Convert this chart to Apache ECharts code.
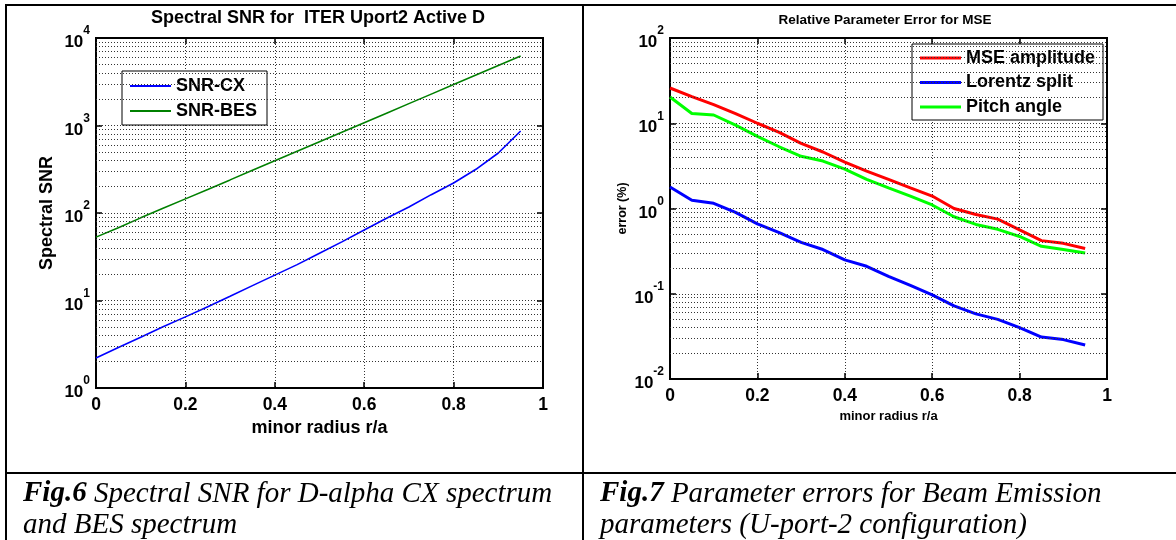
<!DOCTYPE html>
<html>
<head>
<meta charset="utf-8">
<script src="https://cdn.jsdelivr.net/npm/echarts@6/dist/echarts.min.js"></script>
<style>
html,body{margin:0;padding:0;background:#fff}
#chart{width:1176px;height:540px}
</style>
</head>
<body>
<div id="chart"></div>
<script>
// minor radius r/a, shared by both panels
const radius = [0, 0.05, 0.1, 0.15, 0.2, 0.25, 0.3, 0.35, 0.4, 0.45, 0.5, 0.55, 0.6, 0.65, 0.7, 0.75, 0.8, 0.85, 0.9, 0.95]

// Fig.6 spectral SNR
const snrCX  = [2.2, 2.9, 3.8, 5.0, 6.5, 8.5, 11.2, 14.8, 19.5, 25.7, 34.7, 46.8, 64, 87, 117, 162, 220, 316, 485, 865]
const snrBES = [53, 68, 88, 113, 145, 186, 239, 308, 395, 508, 653, 838, 1077, 1384, 1778, 2284, 2936, 3772, 4845, 6225]

// Fig.7 relative parameter error (%)
const errMSE     = [25.9, 20.5, 16.5, 13, 10, 7.8, 5.8, 4.6, 3.5, 2.75, 2.2, 1.75, 1.4, 1.0, 0.85, 0.75, 0.56, 0.42, 0.39, 0.34]
const errLorentz = [1.79, 1.25, 1.15, 0.9, 0.66, 0.52, 0.40, 0.33, 0.25, 0.21, 0.16, 0.125, 0.097, 0.072, 0.058, 0.05, 0.04, 0.031, 0.029, 0.025]
const errPitch   = [20.3, 13, 12.5, 9.5, 7.0, 5.3, 4.1, 3.6, 2.9, 2.2, 1.75, 1.4, 1.1, 0.8, 0.65, 0.57, 0.47, 0.36, 0.33, 0.30]

const xTicks = ['0', '0.2', '0.4', '0.6', '0.8', '1']

const FONT = 'Liberation Sans'
const SERIF = 'Liberation Serif'

const pairs = arr => radius.map((r, i) => [r, arr[i]])

// dotted minor grid at 2..9 x 10^k
function minorLines(lo, hi){
    let out = []
    for(let k = lo; k < hi; k++){
        for(let m = 2; m <= 9; m++){
            out.push({yAxis: m * Math.pow(10, k)})
        }
    }
    return out
}

const gridDots = {color:'#333', type:[1,2], width:1}

function expLabel(v){
    const e = Math.round(Math.log10(v))
    return '{b|10}{s|' + e + '}'
}

function xAxisPair(g, fs){
    return [
        {
            type:'value', gridIndex:g, min:0, max:1, interval:0.2,
            axisLine:{show:true, onZero:false, lineStyle:{color:'#000', width:2}},
            axisTick:{inside:true, length:6, lineStyle:{color:'#000', width:1.5}},
            axisLabel:{
                margin:8, color:'#000', fontFamily:FONT, fontWeight:'bold', fontSize:fs,
                formatter:(v, i) => xTicks[i]
            },
            splitLine:{show:true, lineStyle:gridDots}
        },
        {
            type:'value', gridIndex:g, position:'top', min:0, max:1, interval:0.2,
            axisLine:{show:true, onZero:false, lineStyle:{color:'#000', width:2}},
            axisTick:{inside:true, length:6, lineStyle:{color:'#000', width:1.5}},
            axisLabel:{show:false},
            splitLine:{show:false}
        }
    ]
}

function yAxisPair(g, lo, hi, name, nameSize, nameGap){
    return [
        {
            type:'log', logBase:10, gridIndex:g, min:Math.pow(10, lo), max:Math.pow(10, hi),
            axisLine:{show:true, onZero:false, lineStyle:{color:'#000', width:2}},
            axisTick:{inside:true, length:6, lineStyle:{color:'#000', width:1.5}},
            axisLabel:{
                margin:6, formatter:expLabel,
                rich:{
                    b:{fontFamily:FONT, fontWeight:'bold', fontSize:17, color:'#000', lineHeight:26, verticalAlign:'bottom'},
                    s:{fontFamily:FONT, fontWeight:'bold', fontSize:12, color:'#000', lineHeight:12, verticalAlign:'top'}
                }
            },
            splitLine:{show:true, lineStyle:gridDots},
            name:name, nameLocation:'middle', nameGap:nameGap,
            nameTextStyle:{color:'#000', fontFamily:FONT, fontWeight:'bold', fontSize:nameSize}
        },
        {
            type:'log', logBase:10, gridIndex:g, position:'right', min:Math.pow(10, lo), max:Math.pow(10, hi),
            axisLine:{show:true, onZero:false, lineStyle:{color:'#000', width:2}},
            axisTick:{inside:true, length:6, lineStyle:{color:'#000', width:1.5}},
            axisLabel:{show:false},
            splitLine:{show:false}
        }
    ]
}

function minorSeries(xi, yi, lo, hi){
    return {
        type:'line', xAxisIndex:xi, yAxisIndex:yi, data:[], silent:true, z:1,
        markLine:{
            silent:true, symbol:['none','none'], animation:false,
            label:{show:false},
            lineStyle:gridDots,
            emphasis:{disabled:true},
            data:minorLines(lo, hi)
        }
    }
}

function curve(name, data, color, width, xi, yi){
    return {
        name:name, type:'line', xAxisIndex:xi, yAxisIndex:yi, data:pairs(data),
        showSymbol:false, symbol:'none', z:3,
        lineStyle:{color:color, width:width}, itemStyle:{color:color}
    }
}

const legendText = {color:'#000', fontFamily:FONT, fontWeight:'bold', fontSize:18}

const mychart = echarts.init(document.getElementById('chart'))
mychart.setOption({
    animation:false,
    backgroundColor:'#fff',
    grid:[
        {left:96, top:38, width:447, height:350, show:true, borderColor:'#000', borderWidth:2, backgroundColor:'#fff'},
        {left:670, top:38, width:437, height:341, show:true, borderColor:'#000', borderWidth:2, backgroundColor:'#fff'}
    ],
    xAxis:[
        ...xAxisPair(0, 17.5).map((a, i) => i === 0 ? Object.assign(a, {
            name:'minor radius r/a', nameLocation:'middle', nameGap:23,
            nameTextStyle:{color:'#000', fontFamily:FONT, fontWeight:'bold', fontSize:18}
        }) : a),
        ...xAxisPair(1, 17.5).map((a, i) => i === 0 ? Object.assign(a, {
            name:'minor radius r/a', nameLocation:'middle', nameGap:26,
            nameTextStyle:{color:'#000', fontFamily:FONT, fontWeight:'bold', fontSize:13}
        }) : a)
    ],
    yAxis:[
        ...yAxisPair(0, 0, 4, 'Spectral SNR', 18, 40),
        ...yAxisPair(1, -2, 2, 'error (%)', 12.5, 41)
    ],
    legend:[
        {
            data:['SNR-CX','SNR-BES'], orient:'vertical', left:122, top:71,
            padding:[6, 10, 5, 8], itemGap:7, itemWidth:41, itemHeight:2, icon:'rect',
            borderColor:'#000', borderWidth:1, backgroundColor:'#fff',
            textStyle:legendText, selectedMode:false
        },
        {
            data:['MSE amplitude','Lorentz split','Pitch angle'], orient:'vertical', left:912, top:44,
            padding:[5, 8, 4, 8], itemGap:6.5, itemWidth:41, itemHeight:3, icon:'rect',
            borderColor:'#000', borderWidth:1, backgroundColor:'#fff',
            textStyle:legendText, selectedMode:false
        }
    ],
    series:[
        minorSeries(0, 0, 0, 4),
        curve('SNR-CX', snrCX, '#0000ff', 1.6, 0, 0),
        curve('SNR-BES', snrBES, '#008000', 1.6, 0, 0),
        minorSeries(2, 2, -2, 2),
        curve('MSE amplitude', errMSE, '#ff0000', 3, 2, 2),
        curve('Lorentz split', errLorentz, '#0000ff', 3, 2, 2),
        curve('Pitch angle', errPitch, '#00ff00', 3, 2, 2)
    ],
    graphic:[
        // table rules
        {type:'line', shape:{x1:5, y1:5, x2:1176, y2:5}, style:{stroke:'#000', lineWidth:2}},
        {type:'line', shape:{x1:6, y1:5, x2:6, y2:540}, style:{stroke:'#000', lineWidth:2}},
        {type:'line', shape:{x1:583, y1:5, x2:583, y2:540}, style:{stroke:'#000', lineWidth:2}},
        {type:'line', shape:{x1:6, y1:473, x2:1176, y2:473}, style:{stroke:'#000', lineWidth:2}},
        // plot titles
        {type:'text', x:318, y:18, style:{text:'Spectral SNR for  ITER Uport2 Active D', fill:'#000',
            fontFamily:FONT, fontWeight:'bold', fontSize:18, align:'center', verticalAlign:'middle'}},
        {type:'text', x:885, y:20, style:{text:'Relative Parameter Error for MSE', fill:'#000',
            fontFamily:FONT, fontWeight:'bold', fontSize:13.5, align:'center', verticalAlign:'middle'}},
        // captions
        {type:'text', x:23, y:494, style:{text:'{b|Fig.6} Spectral SNR for D-alpha CX spectrum', fill:'#000',
            fontFamily:SERIF, fontStyle:'italic', fontSize:29, verticalAlign:'middle',
            rich:{b:{fontFamily:SERIF, fontStyle:'italic', fontWeight:'bold', fontSize:29, fill:'#000'}}}},
        {type:'text', x:23, y:525, style:{text:'and BES spectrum', fill:'#000',
            fontFamily:SERIF, fontStyle:'italic', fontSize:29, verticalAlign:'middle'}},
        {type:'text', x:600, y:494, style:{text:'{b|Fig.7} Parameter errors for Beam Emission', fill:'#000',
            fontFamily:SERIF, fontStyle:'italic', fontSize:29, verticalAlign:'middle',
            rich:{b:{fontFamily:SERIF, fontStyle:'italic', fontWeight:'bold', fontSize:29, fill:'#000'}}}},
        {type:'text', x:600, y:525, style:{text:'parameters (U-port-2 configuration)', fill:'#000',
            fontFamily:SERIF, fontStyle:'italic', fontSize:29, verticalAlign:'middle'}}
    ]
})
</script>
</body>
</html>
